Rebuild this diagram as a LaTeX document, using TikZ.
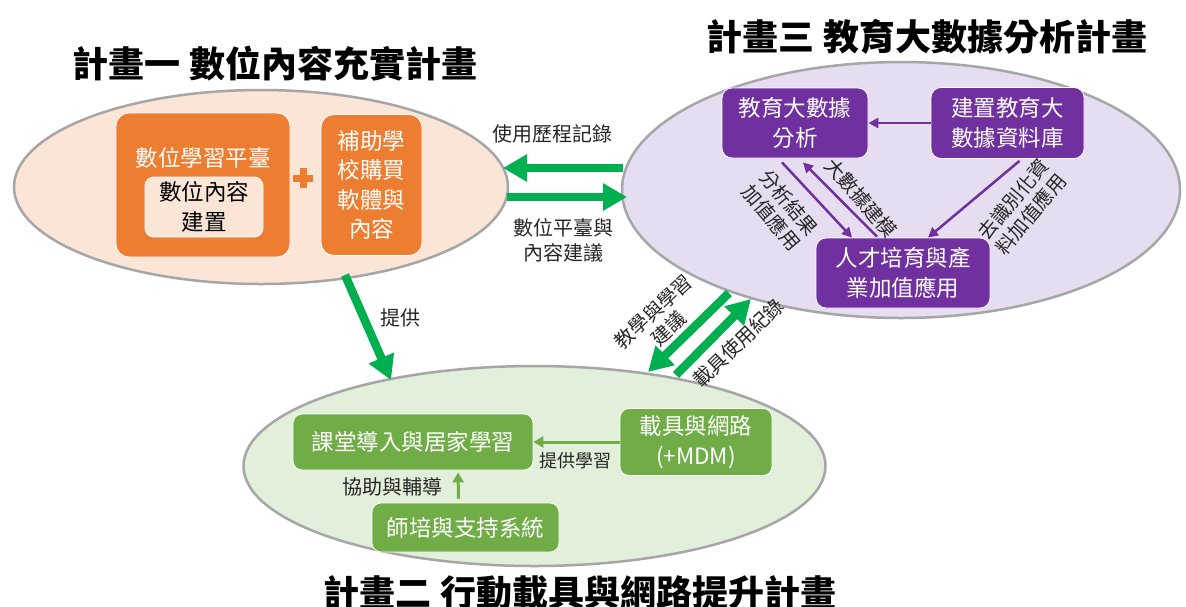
\documentclass[tikz,border=0pt]{standalone}
\usepackage{fontspec}
\setmainfont{Noto Sans CJK TC}
\usetikzlibrary{arrows.meta,shapes.geometric,calc}
\definecolor{eorange}{HTML}{FBE5D6}
\definecolor{epurple}{HTML}{E6DDF1}
\definecolor{egreen}{HTML}{E2EFDA}
\definecolor{borange}{HTML}{ED7D31}
\definecolor{bpurple}{HTML}{7030A0}
\definecolor{bgreen}{HTML}{70AD47}
\definecolor{agreen}{HTML}{00B050}
\definecolor{egray}{HTML}{A6A6A6}
\definecolor{txt}{HTML}{262626}
\tikzset{
  ell/.style={ellipse, draw=egray, line width=2.5pt, inner sep=0pt},
  rbox/.style={rectangle, rounded corners=13pt, draw=white, line width=0.8pt, inner sep=0pt, text=white, align=center, font=\fontsize{22.5}{29.5}\selectfont},
  obox/.style={rbox, fill=borange},
  pbox/.style={rbox, fill=bpurple, rounded corners=10pt},
  gbox/.style={rbox, fill=bgreen, rounded corners=9pt},
  boxtxt/.style={font=\fontsize{22.5}{29.5}\selectfont, align=center, inner sep=0pt},
  title/.style={font=\fontsize{36}{40}\selectfont\bfseries, text=black, inner sep=0pt},
  lbl/.style={font=\fontsize{20}{25}\selectfont, text=txt, align=center, inner sep=0pt},
  slbl/.style={font=\fontsize{18}{22}\selectfont, text=txt, align=center, inner sep=0pt},
  rlbl/.style={font=\fontsize{19.5}{23}\selectfont, text=txt, align=center, inner sep=0pt},
  bigarr/.style={draw=agreen, line width=8.5pt, -{Triangle[width=26pt,length=24pt]}},
  parr/.style={draw=bpurple, line width=2.5pt, -{Triangle[width=10pt,length=10pt]}},
  garr/.style={draw=bgreen, line width=3pt, -{Triangle[width=11pt,length=10pt]}},
}
\begin{document}
\begin{tikzpicture}[x=1pt,y=-1pt]
\useasboundingbox[fill=white] (0,0) rectangle (1186,606);

% ellipses
\node[ell, fill=eorange, minimum width=494pt, minimum height=194pt] (e1) at (261,187) {};
\node[ell, fill=epurple, minimum width=558pt, minimum height=256pt] (e3) at (901,190) {};
\node[ell, fill=egreen, minimum width=582pt, minimum height=200pt] (e2) at (534.5,466) {};

% titles
\node[title] (t1) at (275,64) {計畫一 數位內容充實計畫};
\node[title] (t3) at (927,37) {計畫三 教育大數據分析計畫};
\node[title] (t2) at (580,593) {計畫二 行動載具與網路提升計畫};

% plan 1 boxes
\node[obox, minimum width=174pt, minimum height=144pt] (o1) at (203,185) {};
\node[boxtxt, text=white] (o1t) at (203,158) {數位學習平臺};
\node[rbox, fill=eorange, rounded corners=9pt, minimum width=118pt, minimum height=60pt, text=black] (o2) at (204,207) {數位內容\\建置};
\node[obox, minimum width=101pt, minimum height=141pt] (o3) at (371.5,185) {補助學\\校購買\\軟體與\\內容};
% plus
\node[inner sep=0pt] (plus) at (303,178) {};
\fill[borange] ($(plus)+(-10,-3.5)$) rectangle ($(plus)+(10,3.5)$);
\fill[borange] ($(plus)+(-3.5,-10)$) rectangle ($(plus)+(3.5,10)$);

% plan 3 boxes
\node[pbox, minimum width=146pt, minimum height=70pt] (a1) at (795,123) {教育大數據\\分析};
\node[pbox, minimum width=153pt, minimum height=71pt] (a2) at (1007.5,123) {建置教育大\\數據資料庫};
\node[pbox, minimum width=174pt, minimum height=70pt] (a3) at (903,273) {人才培育與產\\業加值應用};

% plan 2 boxes
\node[gbox, minimum width=240pt, minimum height=56pt] (g1) at (413,442) {課堂導入與居家學習};
\node[gbox, minimum width=152pt, minimum height=67pt] (g2) at (696,442) {載具與網路\\(+MDM)};
\node[gbox, minimum width=187pt, minimum height=49pt] (g3) at (465.5,527.5) {師培與支持系統};

% big green arrows plan1 <-> plan3
\coordinate (p13a) at (623,168);
\coordinate (p13b) at (503,168);
\coordinate (p31a) at (507,197);
\coordinate (p31b) at (627,197);
\draw[bigarr] (p13a) -- (p13b);
\draw[bigarr] (p31a) -- (p31b);
\node[lbl] (l1) at (552,134) {使用歷程記錄};
\node[lbl] (l2) at (563,240) {數位平臺與\\內容建議};

% plan1 -> plan2
\coordinate (p12a) at (345,275);
\coordinate (p12b) at (391,380);
\draw[bigarr] (p12a) -- (p12b);
\node[lbl] (l3) at (400,318) {提供};

% plan3 <-> plan2
\coordinate (p32a) at (729,293);
\coordinate (p32b) at (648,372);
\coordinate (p23a) at (676,375);
\coordinate (p23b) at (751,299);
\draw[bigarr] (p32a) -- (p32b);
\draw[bigarr] (p23a) -- (p23b);
\node[rlbl, rotate=43] (l4) at (661,320) {教學與學習\\建議};
\node[rlbl, rotate=44] (l5) at (738,343) {載具使用紀錄};

% purple arrows
\draw[parr] (a2.west) -- (a1.east);
\draw[parr] ($(a1.south)+(-13,4)$) -- ($(a3.north)+(-51,0)$);
\draw[parr] ($(a3.north)+(-26,-1)$) -- ($(a1.south)+(8,4)$);
\draw[parr] ($(a2.south)+(12,2)$) -- ($(a3.north)+(25,0)$);
\node[rlbl, rotate=-50] (l6) at (780,210) {分析結果\\加值應用};
\node[rlbl, rotate=-49] (l7) at (861,198) {大數據建模};
\node[rlbl, rotate=50] (l8) at (1022,207) {去識別化資\\料加值應用};

% green small arrows
\draw[garr] (g2.west) -- (g1.east);
\node[slbl] (l9) at (575,461) {提供學習};
\draw[garr] ($(g3.north)+(-7,-4)$) -- ($(g1.south)+(45,2)$);
\node[lbl] (l10) at (392,487) {協助與輔導};
\end{tikzpicture}
\end{document}
